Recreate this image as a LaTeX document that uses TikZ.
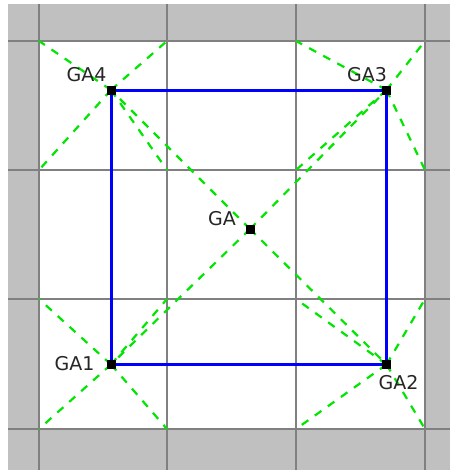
\documentclass[tikz,border=0pt]{standalone}
\usepackage{fontspec}
\setsansfont{DejaVu Sans}
\usepackage{tikz}
\usetikzlibrary{calc}

\definecolor{cellgray}{RGB}{192,192,192}
\definecolor{linegray}{RGB}{128,128,128}
\definecolor{diaggreen}{RGB}{0,230,0}

\begin{document}
\begin{tikzpicture}[x=1pt,y=-1pt,
    gridline/.style={linegray,line width=2.2pt},
    diag/.style={diaggreen,line width=2.2pt,dash pattern=on 8pt off 8pt},
    frame/.style={blue,line width=3pt},
    pt/.style={fill=black,minimum size=9pt,inner sep=0pt,outer sep=0pt},
    lbl/.style={inner sep=0pt,font=\sffamily\fontsize{19}{21}\selectfont,text=black!85}]
  \useasboundingbox (0,0) rectangle (450,472);
  \fill[cellgray] (8,4) rectangle (450,470);
  \fill[white] (39,41) rectangle (425,429);
  \foreach \x in {39,167,296,425}
    \draw[gridline] (\x,4) -- (\x,470);
  \foreach \y in {41,170,299,429}
    \draw[gridline] (8,\y) -- (450,\y);
  % cell corners
  \coordinate (a1) at (39,41);  \coordinate (a2) at (167,41);
  \coordinate (a3) at (296,41); \coordinate (a4) at (425,41);
  \coordinate (b1) at (39,170); \coordinate (b2) at (167,170);
  \coordinate (b3) at (296,170); \coordinate (b4) at (425,170);
  \coordinate (c1) at (39,299); \coordinate (c2) at (167,299);
  \coordinate (c3) at (296,299); \coordinate (c4) at (425,299);
  \coordinate (d1) at (39,429); \coordinate (d2) at (167,429);
  \coordinate (d3) at (296,429); \coordinate (d4) at (425,429);
  % points
  \node[pt] (GA4) at (111,90) {};
  \node[pt] (GA3) at (386.5,90) {};
  \node[pt] (GA1) at (111,364.5) {};
  \node[pt] (GA2) at (386.5,364.5) {};
  \node[pt] (GA) at (250,229) {};
  % dashed diagonals
  \foreach \c in {a1,a2,b1,b2} \draw[diag] (GA4.center) -- (\c);
  \foreach \c in {a3,a4,b3,b4} \draw[diag] (GA3.center) -- (\c);
  \foreach \c in {c1,c2,d1,d2} \draw[diag] (GA1.center) -- (\c);
  \foreach \c in {c3,c4,d3,d4} \draw[diag] (GA2.center) -- (\c);
  \foreach \p in {GA1,GA2,GA3,GA4} \draw[diag] (GA.center) -- (\p.center);
  \draw[frame] (GA1.center) -- (GA2.center) -- (GA3.center) -- (GA4.center) -- cycle;
  \foreach \p in {GA1,GA2,GA3,GA4,GA} \node[pt] at (\p) {};
  % labels
  \node[lbl] (tGA4) at (86.5,74.5) {GA4};
  \node[lbl] (tGA3) at (367,74.5) {GA3};
  \node[lbl] (tGA1) at (74.5,363.5) {GA1};
  \node[lbl] (tGA2) at (398.5,383) {GA2};
  \node[lbl] (tGA) at (222,219) {GA};
\end{tikzpicture}
\end{document}
